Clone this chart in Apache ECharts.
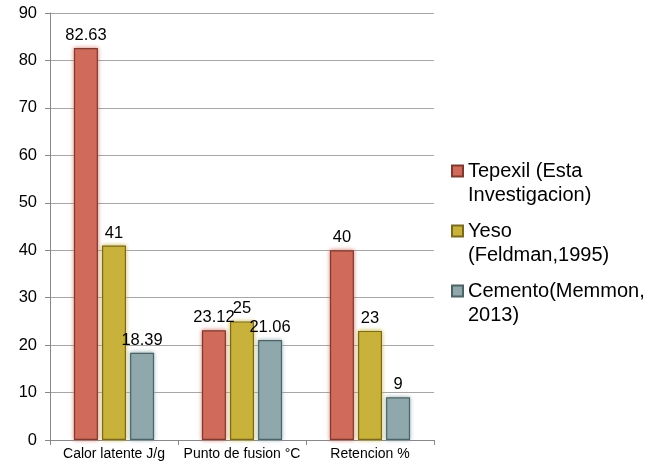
<!DOCTYPE html>
<html>
<head>
<meta charset="utf-8">
<title>Comparativa</title>
<script src="https://cdn.jsdelivr.net/npm/echarts@6/dist/echarts.min.js"></script>
<style>
	html, body { margin: 0; padding: 0; background: #fff; }
	#chart { width: 670px; height: 469px; }
</style>
</head>
<body>
	<div id="chart"></div>
	<script>
		// datos
		var categorias = ['Calor latente J/g', 'Punto de fusion °C', 'Retencion %'];
		var tepexil = [82.63, 23.12, 40];
		var yeso = [41, 25, 23];
		var cemento = [18.39, 21.06, 9];
		var ticksY = [0, 10, 20, 30, 40, 50, 60, 70, 80, 90];

		var nombres = ['Tepexil (Esta Investigacion)', 'Yeso (Feldman,1995)', 'Cemento(Memmon, 2013)'];
		var lineas = {
			'Tepexil (Esta Investigacion)': 'Tepexil (Esta\nInvestigacion)',
			'Yeso (Feldman,1995)': 'Yeso\n(Feldman,1995)',
			'Cemento(Memmon, 2013)': 'Cemento(Memmon,\n2013)'
		};

		var chart = echarts.init(document.getElementById('chart'));

		function serie(nombre, datos, relleno, borde) {
			return {
				name: nombre,
				type: 'bar',
				data: datos,
				barWidth: 24,
				barGap: '17%',
				itemStyle: {
					color: relleno,
					borderColor: borde,
					borderWidth: 1.2,
					shadowColor: relleno,
					shadowBlur: 4
				},
				label: {
					show: true,
					position: 'top',
					distance: 4,
					color: '#000',
					fontSize: 16.5,
					fontFamily: 'Liberation Sans'
				}
			};
		}

		var option = {
			animation: false,
			textStyle: { fontFamily: 'Liberation Sans' },
			grid: { left: 50, right: 236, top: 13, bottom: 29 },
			legend: {
				orient: 'vertical',
				left: 446,
				top: 153,
				itemGap: 10,
				itemWidth: 11,
				itemHeight: 48,
				// cuadro arriba, para que quede junto a la primera linea
				icon: 'path://M0,0 M0,6.5h11v11h-11z M0,48',
				data: nombres,
				formatter: function (n) { return lineas[n]; },
				textStyle: { fontSize: 20, lineHeight: 24, color: '#000' }
			},
			xAxis: {
				type: 'category',
				data: categorias,
				axisLine: { lineStyle: { color: '#888' } },
				axisTick: { show: true, length: 5, lineStyle: { color: '#888' } },
				axisLabel: { color: '#000', fontSize: 14, margin: 7, interval: 0 }
			},
			yAxis: {
				type: 'value',
				min: ticksY[0],
				max: ticksY[ticksY.length - 1],
				interval: 10,
				axisLine: { show: true, lineStyle: { color: '#888' } },
				axisTick: { show: true, length: 5, lineStyle: { color: '#888' } },
				splitLine: { lineStyle: { color: '#a6a6a6' } },
				axisLabel: { color: '#000', fontSize: 16.5, margin: 13 }
			},
			series: [
				serie(nombres[0], tepexil, '#d06b5b', '#7e3a30'),
				serie(nombres[1], yeso, '#c9b23b', '#7a6a1e'),
				serie(nombres[2], cemento, '#8fa8ac', '#4d6366')
			]
		};
		chart.setOption(option);
	</script>
</body>
</html>
